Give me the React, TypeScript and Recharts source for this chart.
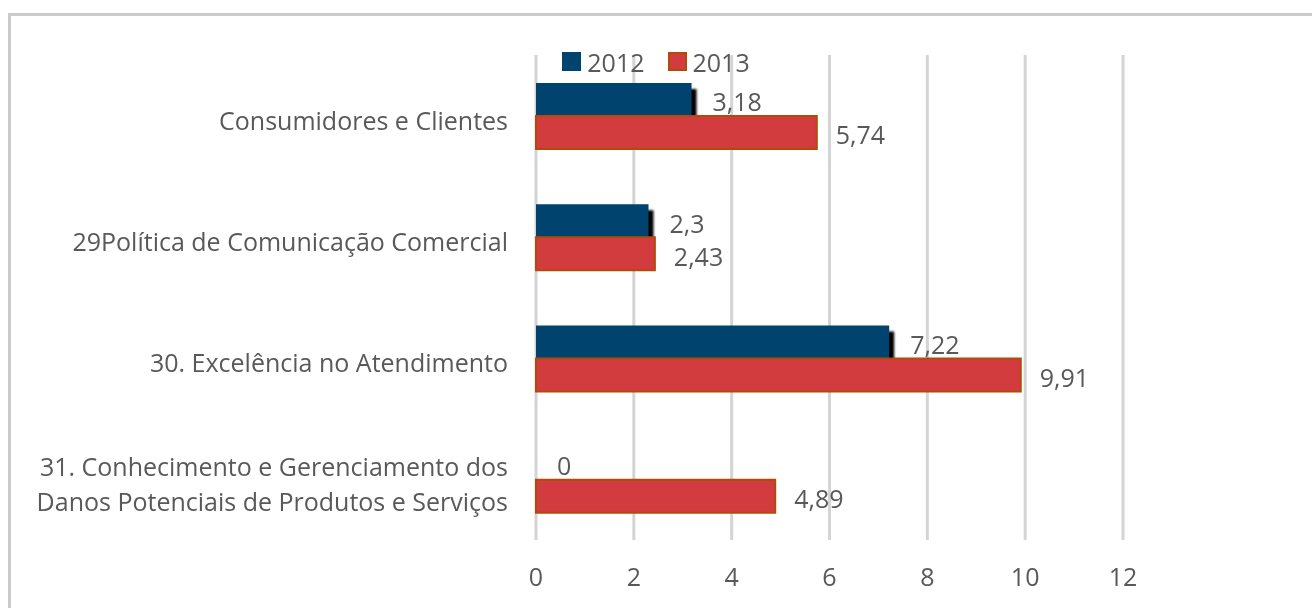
import React from 'react';
import { BarChart, Bar, XAxis, YAxis, CartesianGrid, Legend, LabelList } from 'recharts';

const categories = [
  'Consumidores e Clientes',
  '29Política de Comunicação Comercial',
  '30. Excelência no Atendimento',
  '31. Conhecimento e Gerenciamento dos\nDanos Potenciais de Produtos e Serviços',
];
const values2012 = [3.18, 2.3, 7.22, 0];
const values2013 = [5.74, 2.43, 9.91, 4.89];
const xTicks = [0, 2, 4, 6, 8, 10, 12];

const data = categories.map((name, i) => ({ name, y2012: values2012[i], y2013: values2013[i] }));

const FONT = '"Open Sans", sans-serif';
const FS = 25;
const TEXT = '#595959';
const BLUE = '#00436e';
const RED = '#d23c3f';
const RED_EDGE = '#b24a0c';

const fmt = (v: any) => String(v).replace('.', ',');

const CategoryTick = (props: any) => {
  const { x, y, payload } = props;
  const lines = String(payload.value).split('\n');
  const lh = 35;
  const start = y - ((lines.length - 1) * lh) / 2;
  return (
    <text x={x} y={start} textAnchor="end" fill={TEXT} fontSize={FS} fontFamily={FONT} dominantBaseline="central">
      {lines.map((l, i) => (
        <tspan key={i} x={x} y={start + i * lh + 4}>{l}</tspan>
      ))}
    </text>
  );
};

const ShadowBar = (props: any) => {
  const { x, y, width, height, fill } = props;
  if (!width || width <= 0) return null;
  return (
    <g>
      <rect x={x + 5} y={y + 6} width={width} height={height} fill="#000" filter="url(#barShadow)" />
      <rect x={x} y={y} width={width} height={height} fill={fill} />
    </g>
  );
};

const LegendContent = () => (
  <div style={{ height: 33, display: 'flex', justifyContent: 'center', alignItems: 'center', fontFamily: FONT, fontSize: FS, color: TEXT }}>
    <span style={{ width: 19, height: 19, background: BLUE, display: 'inline-block', marginRight: 6 }} />
    <span style={{ marginRight: 23 }}>2012</span>
    <span style={{ width: 15, height: 15, background: RED, border: `2px solid ${RED_EDGE}`, display: 'inline-block', marginRight: 6 }} />
    <span>2013</span>
  </div>
);

export default function App() {
  return (
    <div>
      <div style={{ position: 'fixed', left: 8, top: 13, right: 0, bottom: 0, borderTop: '3px solid #cbcbcb', borderLeft: '3px solid #cbcbcb' }} />
      <div style={{ position: 'absolute', left: 0, top: 0 }}>
        <BarChart
          width={1312}
          height={608}
          data={data}
          layout="vertical"
          margin={{ top: 22, right: 189, bottom: 18, left: 0 }}
          barGap={0}
          barSize={33}
        >
          <defs>
            <filter id="barShadow" x="-10%" y="-30%" width="120%" height="160%">
              <feGaussianBlur stdDeviation="0.9" />
            </filter>
          </defs>
          <CartesianGrid horizontal={false} stroke="#d4d4d4" strokeWidth={3} />
          <XAxis
            type="number"
            domain={[0, 12]}
            ticks={xTicks}
            axisLine={false}
            tickLine={false}
            height={50}
            tickMargin={22}
            tick={{ fill: TEXT, fontSize: FS, fontFamily: FONT }}
          />
          <YAxis
            type="category"
            dataKey="name"
            width={536}
            axisLine={false}
            tickLine={false}
            tickMargin={22}
            tick={<CategoryTick />}
          />
          <Legend
            layout="vertical"
            align="center"
            verticalAlign="top"
            wrapperStyle={{ top: 45, left: 0, width: 1312 }}
            content={<LegendContent />}
          />
          <Bar dataKey="y2012" fill={BLUE} shape={<ShadowBar />} isAnimationActive={false}>
            <LabelList dataKey="y2012" position="right" offset={21} dy={3} formatter={fmt} fill={TEXT} fontSize={FS} fontFamily={FONT} />
          </Bar>
          <Bar dataKey="y2013" fill={RED} stroke={RED_EDGE} strokeWidth={2} isAnimationActive={false}>
            <LabelList dataKey="y2013" position="right" offset={19} dy={3} formatter={fmt} fill={TEXT} fontSize={FS} fontFamily={FONT} />
          </Bar>
        </BarChart>
      </div>
    </div>
  );
}
